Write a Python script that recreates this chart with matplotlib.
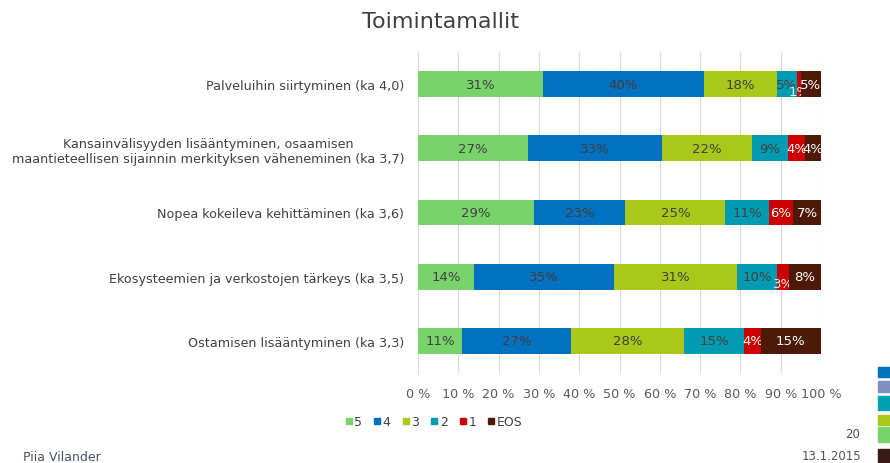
import numpy as np
import matplotlib
matplotlib.use('Agg')
import matplotlib.pyplot as plt
from matplotlib.patches import Rectangle

plt.rcParams['font.family'] = ['DejaVu Sans']

# kysymykset (ylhäältä alas)
categories = ['Palveluihin siirtyminen (ka 4,0)',
              'Kansainvälisyyden lisääntyminen, osaamisen\nmaantieteellisen sijainnin merkityksen väheneminen (ka 3,7)',
              'Nopea kokeileva kehittäminen (ka 3,6)',
              'Ekosysteemien ja verkostojen tärkeys (ka 3,5)',
              'Ostamisen lisääntyminen (ka 3,3)']
series_names = ['5', '4', '3', '2', '1', 'EOS']
v5 = [31, 27, 29, 14, 11]
v4 = [40, 33, 23, 35, 27]
v3 = [18, 22, 25, 31, 28]
v2 = [5, 9, 11, 10, 15]
v1 = [1, 4, 6, 3, 4]
veos = [5, 4, 7, 8, 15]
xticks = [0, 10, 20, 30, 40, 50, 60, 70, 80, 90, 100]

colors = ['#77d36a', '#0070c0', '#a9c819', '#009bb0', '#cc0000', '#4d1a0a']
label_colors = ['#404040', '#404040', '#404040', '#404040', 'white', 'white']

fig = plt.figure(figsize=(8.9, 4.64), dpi=100)
ax = fig.add_axes([418 / 890, 1 - 374 / 464, 403 / 890, 321 / 464])

all_vals = np.array([v5, v4, v3, v2, v1, veos], dtype=float)
totals = all_vals.sum(axis=0)  # 100 % pinottu: rivit skaalataan sataan

y = np.arange(len(categories))
left = np.zeros(len(categories))
for name, vals, c, lc in zip(series_names, all_vals, colors, label_colors):
    w = vals / totals * 100
    bars = ax.barh(y, w, left=left, height=0.4, color=c, label=name, zorder=3)
    texts = ax.bar_label(bars, labels=['%d%%' % v for v in vals], label_type='center',
                         color=lc, fontsize=9.5)
    # pienimmät luvut hieman alemmas kuten alkuperäisessä
    for t, v in zip(texts, vals):
        if v <= 3:
            t.xyann = (0, -5)
            t.set_color('#e8f4fa')
    left += w

ax.set_ylim(len(categories) - 0.5, -0.5)
ax.set_xlim(0, 100)
ax.set_yticks(y)
ax.set_yticklabels(categories, fontsize=9.2, color='#404040', multialignment='center')
ax.set_xticks(xticks)
ax.set_xticklabels(['%d %%' % t for t in xticks], fontsize=9.2, color='#595959')
ax.tick_params(axis='x', length=0, pad=10)
ax.tick_params(axis='y', length=0, pad=10)
ax.grid(axis='x', color='#d9d9d9', linewidth=0.8, zorder=0)
for s in ['top', 'right', 'bottom']:
    ax.spines[s].set_visible(False)
ax.spines['left'].set_color('#d9d9d9')

# otsikko
fig.text(441 / 890, 1 - 22 / 464, 'Toimintamallit', ha='center', va='center',
         fontsize=16, color='#404040')

# selite
handles = [plt.Line2D([], [], marker='s', linestyle='', color=c, markersize=4.5) for c in colors]
fig.legend(handles, series_names, loc='center', bbox_to_anchor=(433 / 890, 1 - 423 / 464),
           ncol=6, frameon=False, fontsize=9, handletextpad=0.05, columnspacing=0.8,
           handlelength=0.8, labelcolor='#404040')

# alatunniste
fig.text(23 / 890, 1 - 458 / 464, 'Piia Vilander', ha='left', va='center', fontsize=9, color='#4a5068')
fig.text(861 / 890, 1 - 457 / 464, '13.1.2015', ha='right', va='center', fontsize=8.5, color='#4a5068')
fig.text(860 / 890, 1 - 435 / 464, '20', ha='right', va='center', fontsize=8.5, color='#4a5068')

# dian reunan väripalat
deco = [('#0070c0', 368, 378), ('#7f8fc0', 382, 393), ('#00a0b0', 397, 411),
        ('#a9c819', 416, 426), ('#77d36a', 428, 443), ('#3a1a14', 450, 464)]
for c, y0, y1 in deco:
    fig.add_artist(Rectangle((878 / 890, 1 - y1 / 464), 12 / 890, (y1 - y0) / 464,
                             transform=fig.transFigure, color=c))

fig.savefig('out.png', dpi=100)
